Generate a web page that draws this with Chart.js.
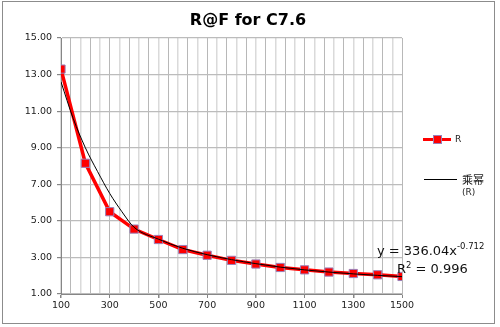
<!DOCTYPE html>
<html>
<head>
<meta charset="utf-8">
<script src="https://cdn.jsdelivr.net/npm/chart.js@4"></script>
<style>
  html, body { margin: 0; padding: 0; background: #fff; }
</style>
</head>
<body>
<canvas id="rafChart" width="500" height="327"></canvas>
<script>
// R values
const freqs = [100, 200, 300, 400, 500, 600, 700, 800, 900, 1000, 1100, 1200, 1300, 1400, 1500];
const rValues = [13.3, 8.15, 5.5, 4.55, 3.98, 3.43, 3.12, 2.84, 2.64, 2.45, 2.32, 2.2, 2.12, 2.05, 1.96];

// power trendline
const trendX = [100, 150, 200, 250, 300, 350, 400, 500, 600, 700, 800, 900, 1000, 1100, 1200, 1300, 1400, 1500];
const trendValues = [12.6, 10.6, 9.0, 7.7, 6.5, 5.5, 4.65, 4.0, 3.5, 3.15, 2.88, 2.66, 2.47, 2.32, 2.2, 2.1, 2.02, 1.95];

const xTickLabels = [100, 300, 500, 700, 900, 1100, 1300, 1500];
const chartTitle = 'R@F for C7.6';
const seriesName = 'R';
const trendName = '乘幂';
const trendSub = '(R)';
const eqMain = 'y = 336.04x';
const eqExp = '-0.712';
const r2Text = ' = 0.996';

const FONT = '"DejaVu Sans", Verdana, sans-serif';

const chrome = {
  id: 'chrome',
  beforeDraw(chart) {
    const ctx = chart.ctx;
    ctx.save();
    ctx.fillStyle = '#fff';
    ctx.fillRect(0, 0, chart.width, chart.height);
    ctx.restore();
  },
  afterDraw(chart) {
    const ctx = chart.ctx;
    ctx.save();
    // outer frame
    ctx.strokeStyle = '#8c8c8c';
    ctx.lineWidth = 1;
    ctx.strokeRect(2.5, 1.5, 492, 322);

    // title
    ctx.fillStyle = '#000';
    ctx.font = 'bold 16px ' + FONT;
    ctx.textAlign = 'center';
    ctx.textBaseline = 'middle';
    ctx.fillText(chartTitle, 248, 21);

    // legend: R
    ctx.strokeStyle = '#ff0000';
    ctx.lineWidth = 3;
    ctx.beginPath();
    ctx.moveTo(423, 139.5);
    ctx.lineTo(451, 139.5);
    ctx.stroke();
    ctx.fillStyle = '#ff0000';
    ctx.fillRect(433.5, 135.5, 8, 8);
    ctx.strokeStyle = '#9a7fb8';
    ctx.lineWidth = 1;
    ctx.strokeRect(433.5, 135.5, 8, 8);
    ctx.fillStyle = '#222';
    ctx.font = '9px ' + FONT;
    ctx.textAlign = 'left';
    ctx.fillText(seriesName, 455, 140);

    // legend: trendline
    ctx.strokeStyle = '#000';
    ctx.lineWidth = 1;
    ctx.beginPath();
    ctx.moveTo(424, 179.5);
    ctx.lineTo(457, 179.5);
    ctx.stroke();
    ctx.font = '11px "Noto Sans CJK SC", sans-serif';
    ctx.fillText(trendName, 462, 180);
    ctx.font = '9px ' + FONT;
    ctx.fillText(trendSub, 462, 193);

    // trendline equation
    ctx.fillStyle = '#111';
    ctx.textBaseline = 'alphabetic';
    ctx.font = '13px ' + FONT;
    ctx.fillText(eqMain, 377, 255);
    let w = ctx.measureText(eqMain).width;
    ctx.font = '8.5px ' + FONT;
    ctx.fillText(eqExp, 377 + w, 249);
    ctx.font = '13px ' + FONT;
    ctx.fillText('R', 397, 273);
    w = ctx.measureText('R').width;
    ctx.font = '8.5px ' + FONT;
    ctx.fillText('2', 397 + w, 268);
    const w2 = ctx.measureText('2').width;
    ctx.font = '13px ' + FONT;
    ctx.fillText(r2Text, 397 + w + w2, 273);
    ctx.restore();
  }
};

new Chart(document.getElementById('rafChart'), {
  type: 'line',
  data: {
    datasets: [
      {
        label: trendName,
        data: trendX.map((x, i) => ({ x: x, y: trendValues[i] })),
        borderColor: '#000',
        borderWidth: 1,
        pointRadius: 0,
        cubicInterpolationMode: 'monotone',
        order: 0
      },
      {
        label: seriesName,
        data: freqs.map((x, i) => ({ x: x, y: rValues[i] })),
        borderColor: '#ff0000',
        borderWidth: 3.5,
        pointStyle: 'rect',
        pointRadius: 5.8,
        pointBackgroundColor: '#ff0000',
        pointBorderColor: '#9a7fb8',
        pointBorderWidth: 1,
        order: 1
      }
    ]
  },
  options: {
    responsive: false,
    animation: false,
    devicePixelRatio: 1,
    layout: { padding: { top: 38, right: 98, bottom: 0, left: 0 } },
    plugins: {
      legend: { display: false },
      title: { display: false },
      tooltip: { enabled: false }
    },
    scales: {
      x: {
        type: 'linear',
        min: 100,
        max: 1500,
        afterFit: s => { s.height = 33; },
        afterBuildTicks: s => {
          const t = [];
          for (let v = 100; v <= 1500; v += 40) t.push({ value: v });
          s.ticks = t;
        },
        ticks: {
          autoSkip: false,
          maxRotation: 0,
          padding: 2,
          color: '#222',
          font: { family: FONT, size: 9.5 },
          callback: v => xTickLabels.includes(v) ? String(v) : ''
        },
        grid: {
          color: c => (c.index % 2 === 1) ? '#b8b8b8' : '#dadada',
          lineWidth: c => (c.index % 2 === 1) ? 1 : 1.5,
          tickLength: 4,
          tickColor: c => (c.tick && xTickLabels.includes(c.tick.value)) ? '#868686' : 'rgba(0,0,0,0)'
        },
        border: { color: '#868686' }
      },
      y: {
        min: 1,
        max: 15,
        afterFit: s => { s.width = 61; },
        ticks: {
          stepSize: 2,
          padding: 5,
          color: '#222',
          font: { family: FONT, size: 9.5 },
          callback: v => v.toFixed(2)
        },
        grid: {
          color: '#bcbcbc',
          lineWidth: 1.2,
          tickLength: 4,
          tickColor: '#868686'
        },
        border: { color: '#868686' }
      }
    }
  },
  plugins: [chrome]
});
</script>
</body>
</html>
